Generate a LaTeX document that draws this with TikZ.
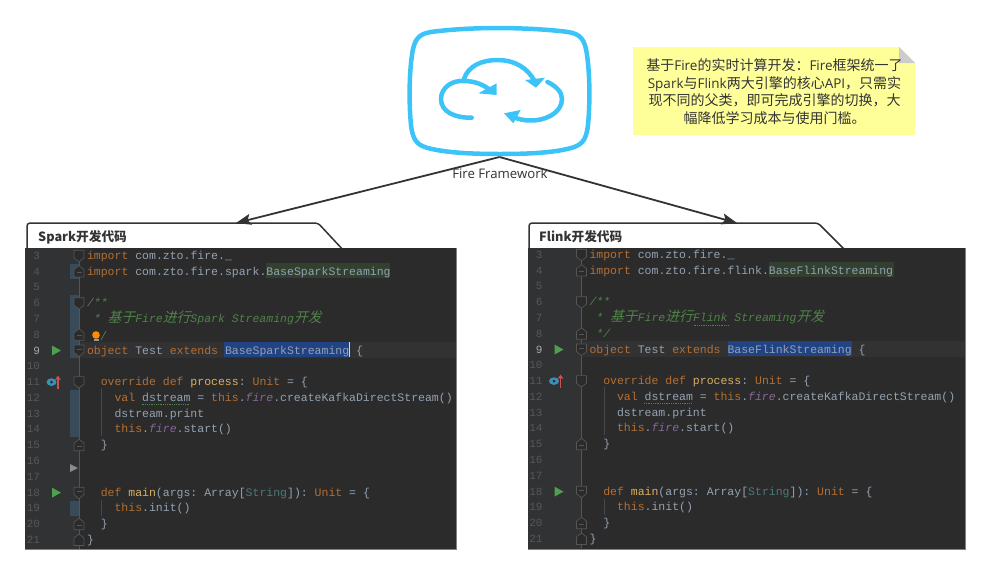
\documentclass[tikz,border=0pt]{standalone}
\usepackage{fontspec}
\setmonofont{Liberation Mono}
\newfontfamily\cjk{Noto Sans CJK SC}
\newfontfamily\cjkitbase[FakeSlant=0.25]{Noto Sans CJK SC}
\newcommand{\cjkit}{\cjkitbase\fontsize{13.8}{14}\selectfont}
\newfontfamily\lat{Open Sans}
\usetikzlibrary{arrows.meta}
\definecolor{cyanicon}{HTML}{3CC4F8}
\definecolor{ink}{HTML}{333333}
\definecolor{notefill}{HTML}{FFFF99}
\definecolor{editorbg}{HTML}{2B2B2B}
\definecolor{gutterbg}{HTML}{303234}
\definecolor{curline}{HTML}{323232}
\definecolor{selbg}{HTML}{214283}
\definecolor{usebg}{HTML}{32402F}
\definecolor{diffbar}{HTML}{374B5A}
\definecolor{foldc}{HTML}{555555}
\definecolor{numc}{HTML}{555759}
\definecolor{numcur}{HTML}{A9A9A9}
\definecolor{kw}{HTML}{B56F32}
\definecolor{tx}{HTML}{93A2B2}
\definecolor{cmt}{HTML}{4F8348}
\definecolor{fnc}{HTML}{D9B063}
\definecolor{tealc}{HTML}{4A7A78}
\definecolor{prp}{HTML}{85689A}
\definecolor{runc}{HTML}{4EA04E}
\definecolor{overc}{HTML}{3C8FB5}
\definecolor{uparrow}{HTML}{C75450}
\newcommand{\K}[1]{\textcolor{kw}{#1}}
\newcommand{\Fn}[1]{\textcolor{fnc}{#1}}
\newcommand{\Fr}[1]{\textcolor{prp}{\itshape #1}}
\tikzset{
  x=1pt,y=-1pt,
  codetext/.style={anchor=base west,inner sep=0pt,outer sep=0pt,text=tx,font=\ttfamily\fontsize{11.5}{14}\selectfont},
  numtext/.style={anchor=base east,inner sep=0pt,outer sep=0pt,text=numc,font=\ttfamily\fontsize{11}{14}\selectfont},
  cardline/.style={draw=ink,line width=1.5pt,fill=white,line join=round,rounded corners=3pt},
  cardtitle/.style={anchor=west,inner sep=0pt,text=ink,font=\cjk\fontsize{12.7}{15}\selectfont\bfseries},
  link/.style={draw=ink,line width=1.8pt,-{Stealth[length=15pt,width=11pt,inset=3pt]}},
  iconline/.style={draw=cyanicon,line width=4.5pt,line cap=round},
  foldmark/.style={draw=foldc,fill=editorbg,line width=0.7pt},
  squiggle/.style={draw=cmt,line width=0.8pt,densely dotted},
}
% y coordinate of an editor line, relative
\newcommand{\liney}[1]{\pgfmathsetmacro{\ly}{255.8+(#1-3)*15.79}}
\newcommand{\cl}[3]{% line, indent in chars, content
  \liney{#1}\pgfmathsetmacro{\lx}{87+#2*6.89}\pgfmathsetmacro{\lbase}{\ly+3.5}
  \node[codetext] (\pfx line#1) at (\lx,\lbase) {#3};}
\newcommand{\lnum}[2][numc]{%
  \liney{#2}\pgfmathsetmacro{\lbase}{\ly+3.5}
  \node[numtext,text=#1] (\pfx num#2) at (40,\lbase) {#2};}
\newcommand{\fdown}[2][0]{% line, with minus?
  \liney{#2}
  \draw[foldmark] (74,\ly-5.5) -- (84,\ly-5.5) -- (84,\ly+2) -- (79,\ly+6) -- (74,\ly+2) -- cycle;
  \ifnum#1=1 \draw[foldc,line width=0.8pt] (76.5,\ly-1.5) -- (81.5,\ly-1.5);\fi}
\newcommand{\fup}[2][0]{%
  \liney{#2}
  \draw[foldmark] (74,\ly+5.5) -- (84,\ly+5.5) -- (84,\ly-2) -- (79,\ly-6) -- (74,\ly-2) -- cycle;
  \ifnum#1=1 \draw[foldc,line width=0.8pt] (76.5,\ly+1) -- (81.5,\ly+1);\fi}
\newcommand{\runmark}[1]{%
  \liney{#1}
  \fill[runc] (52,\ly-5) -- (61,\ly) -- (52,\ly+5) -- cycle;}
\newcommand{\dbar}[2]{% from line to line
  \pgfmathsetmacro{\ya}{255.8+(#1-3)*15.79-7.9}\pgfmathsetmacro{\yb}{255.8+(#2-3)*15.79+7.9}
  \fill[diffbar] (70,\ya) rectangle (79,\yb);}
% shared editor content: #1 prefix, #2 lower word, #3 capital word, #4 right edge
\newcommand{\editor}[4]{%
  \def\pfx{#1}
  \draw[foldc,line width=0.7pt] (79,255) -- (79,549);
  \draw[color=foldc!70!editorbg,line width=0.5pt] (101.5,388) -- (101.5,436) (101.5,500) -- (101.5,516);
  \lnum{3}\lnum{4}\lnum{5}\lnum{6}\lnum{7}\lnum{8}\lnum[numcur]{9}\lnum{10}\lnum{11}\lnum{12}\lnum{13}\lnum{14}\lnum{15}\lnum{16}\lnum{17}\lnum{18}\lnum{19}\lnum{20}\lnum{21}
  \cl{3}{0}{\K{import} com.zto.fire.\_}
  \cl{4}{0}{\K{import} com.zto.fire.#2.Base#3Streaming}
  \cl{6}{0}{\textcolor{cmt}{\itshape /**}}
  \cl{7}{1}{\textcolor{cmt}{\itshape * {\cjkit 基于}Fire{\cjkit 进行}#3 Streaming{\cjkit 开发}}}
  \cl{9}{0}{\K{object} Test \K{extends} Base#3Streaming \{}
  \cl{11}{2}{\K{override def} \Fn{process}: \K{Unit} = \{}
  \cl{12}{4}{\K{val} dstream = \K{this}.\Fr{fire}.createKafkaDirectStream()}
  \cl{13}{4}{dstream.print}
  \cl{14}{4}{\K{this}.\Fr{fire}.start()}
  \cl{15}{2}{\}}
  \cl{18}{2}{\K{def} \Fn{main}(args: Array[\textcolor{tealc}{String}]): \K{Unit} = \{}
  \cl{19}{4}{\K{this}.init()}
  \cl{20}{2}{\}}
  \cl{21}{0}{\}}
  \liney{12}
  \draw[squiggle] (141.5,\ly+6) -- (189.5,\ly+6);
  \fdown{3}\fup[1]{4}\fdown{6}\fup[1]{8}\fdown[1]{9}\fdown{11}\fup[1]{15}\fdown[1]{18}\fup[1]{20}\fup{21}
  \runmark{9}\runmark{18}
  \liney{11}
  \fill[overc] (51.5,\ly) ellipse (5 and 3.8);
  \fill[editorbg] (51.5,\ly) circle (1.5);
  \draw[uparrow,line width=1.2pt,-{Stealth[length=4.5pt,width=6pt]}] (58,\ly+6.5) -- (58,\ly-6.5);
}
\begin{document}
\begin{tikzpicture}
\useasboundingbox (0,0) rectangle (989,574);
\fill[white] (0,0) rectangle (989,574);

% cloud icon
\node[minimum width=180pt,minimum height=130pt,inner sep=0pt,outer sep=0pt] (fire) at (499.5,92) {};
\draw[draw=cyanicon,line width=4.5pt,line join=round]
  (497,28) .. controls (470,28) and (445,30) .. (431,32)
  .. controls (418,34) and (414,40) .. (412,55)
  .. controls (409,75) and (409,105) .. (411,125)
  .. controls (413,142) and (418,146) .. (432,149)
  .. controls (450,153) and (475,154) .. (500,154)
  .. controls (525,154) and (550,153) .. (567,149)
  .. controls (581,146) and (586,142) .. (588,125)
  .. controls (590,105) and (590,75) .. (587,55)
  .. controls (585,40) and (581,34) .. (568,32)
  .. controls (554,30) and (525,28) .. (497,28) -- cycle;
\draw[iconline] (471.7,117.7) .. controls (455,118) and (441,112) .. (441,99)
  .. controls (441,87) and (453,80) .. (464,81) .. controls (475,81) and (484,85) .. (490,90);
\fill[cyanicon] (496.7,83.3) -- (496.7,95) -- (478.3,93.3) -- cycle;
\draw[iconline] (464,79) .. controls (468,66) and (482,60) .. (497,60)
  .. controls (515,60) and (528,68) .. (535,82);
\fill[cyanicon] (525,80) -- (545,77.7) -- (536,87.7) -- cycle;
\draw[iconline] (547.5,82) .. controls (556,86) and (562,92) .. (562,99)
  .. controls (562,113) and (545,121) .. (530,120.5) .. controls (524,120.5) and (518,119) .. (513,117);
\fill[cyanicon] (520.7,110) -- (504,113.3) -- (513.3,123.3) -- cycle;

% note
\fill[notefill] (633,47) -- (899,47) -- (915,63) -- (915,135) -- (633,135) -- cycle;
\fill[black!20] (899,47) -- (915,63) -- (899,63) -- cycle;
\node[inner sep=0pt,align=center,text=ink,font=\cjk\fontsize{14}{17.6}\selectfont] (note) at (774.5,91.5)
  {基于{\lat\fontsize{13.5}{17.6}\selectfont Fire}的实时计算开发：{\lat\fontsize{13.5}{17.6}\selectfont Fire}框架统一了\\{\lat\fontsize{13.5}{17.6}\selectfont Spark}与{\lat\fontsize{13.5}{17.6}\selectfont Flink}两大引擎的核心{\lat\fontsize{13.5}{17.6}\selectfont API}，只需实\\现不同的父类，即可完成引擎的切换，大\\幅降低学习成本与使用门槛。};

% cards
\node[minimum width=418pt,minimum height=26pt,inner sep=0pt,outer sep=0pt] (sparkcard) at (236,236) {};
\node[minimum width=418pt,minimum height=26pt,inner sep=0pt,outer sep=0pt] (flinkcard) at (737,236) {};
\draw[cardline] (27,252) -- (27,223) -- (318,223) -- (345,252) -- cycle;
\draw[cardline] (529,252) -- (529,223) -- (818,223) -- (847,252) -- cycle;
\node[cardtitle] (sparktitle) at (38,237) {Spark开发代码};
\node[cardtitle] (flinktitle) at (539,237) {Flink开发代码};

% connectors and label
\draw[link] (fire.south) -- (sparkcard.north);
\draw[link] (fire.south) -- (flinkcard.north);
\node[inner sep=0pt,text=ink,font=\lat\fontsize{13.2}{15}\selectfont] (firelabel) at (500,174) {Fire Framework};

% editors
\fill[editorbg] (25,248) rectangle (456,549);
\fill[gutterbg] (25,248) rectangle (79,549);
\draw[color=black!50,line width=0.7pt] (25,549) -- (456,549) -- (456,248);
\fill[editorbg] (528,248) rectangle (965,549);
\fill[gutterbg] (528,248) rectangle (582,549);
\draw[color=black!50,line width=0.7pt] (528,549) -- (965,549) -- (965,248);

% left editor
\dbar{4}{4}\dbar{6}{9}\dbar{12}{14}\dbar{19}{19}
\fill[curline] (80,342) rectangle (456,358);
\fill[usebg] (266,263) rectangle (390,278);
\fill[selbg] (224,342) rectangle (349,357);
\editor{s}{spark}{Spark}{456}
\fill[white!85!black] (348.5,342) rectangle (350,357);
\fill[black!45] (70,464) -- (78,468) -- (70,472) -- cycle;
\fill[orange!90!yellow] (96,335) circle (3.8);
\fill[black!40] (93.5,339) rectangle (98.5,341);
\draw[color=cmt,line width=0.7pt] (101,340) -- (106,331);

% right editor
\begin{scope}[shift={(502.5,-1)}]
\fill[curline] (80,342) rectangle (462.5,358);
\fill[usebg] (266.5,263) rectangle (391,278);
\fill[selbg] (225,342) rectangle (349.5,357);
\editor{f}{flink}{Flink}{462.5}
\cl{8}{1}{\textcolor{cmt}{\itshape */}}
\draw[squiggle] (191,326) -- (225.5,326);
\end{scope}
\end{tikzpicture}
\end{document}
